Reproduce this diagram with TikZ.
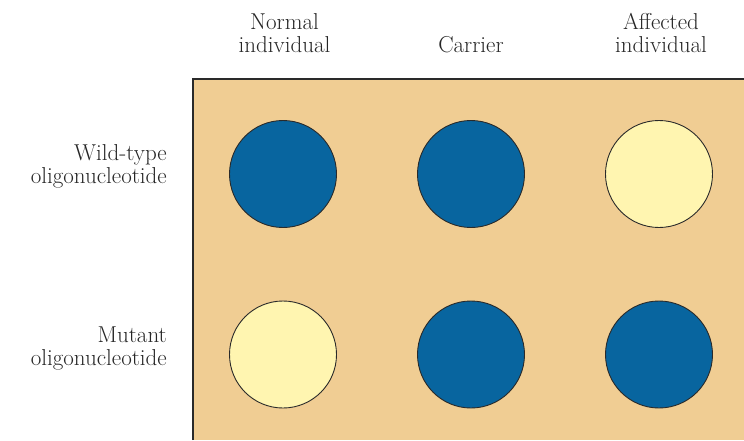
\documentclass[tikz,border=0pt]{standalone}
\definecolor{bgtan}{HTML}{F0CD93}
\definecolor{dotblue}{HTML}{08659F}
\definecolor{dotpale}{HTML}{FFF5B0}
\definecolor{edge}{HTML}{2A2A2A}
\tikzset{
  lbl/.style={font=\fontsize{23}{23}\selectfont, align=center, inner sep=0pt, text=black!85},
  rowlbl/.style={font=\fontsize{23}{23}\selectfont, align=right, inner sep=0pt, text=black!85},
  dotbase/.style={circle, minimum size=107pt, inner sep=0pt, draw=edge, line width=0.9pt},
  dotpos/.style={dotbase, fill=dotblue},
  dotneg/.style={dotbase, fill=dotpale}
}
\begin{document}
\begin{tikzpicture}[x=1pt,y=1pt]
\useasboundingbox (0,0) rectangle (744,440);
\fill[bgtan] (193,0) rectangle (744,361);
\draw[edge, line width=1.4pt] (193,0) -- (193,361) -- (744,361);
\node[lbl, anchor=base] (hn) at (284.5,387) {Normal\\individual};
\node[lbl, anchor=base] (hc) at (471,387) {Carrier};
\node[lbl, anchor=base] (ha) at (661,387) {Affected\\individual};
\node[rowlbl, anchor=base east] (rw) at (167,257) {Wild-type\\oligonucleotide};
\node[rowlbl, anchor=base east] (rm) at (167,75) {Mutant\\oligonucleotide};
\node[dotpos] (a1) at (283,266) {};
\node[dotpos] (a2) at (471,266) {};
\node[dotneg] (a3) at (659,266) {};
\node[dotneg] (b1) at (283,85.5) {};
\node[dotpos] (b2) at (471,85.5) {};
\node[dotpos] (b3) at (659,85.5) {};
\end{tikzpicture}
\end{document}
